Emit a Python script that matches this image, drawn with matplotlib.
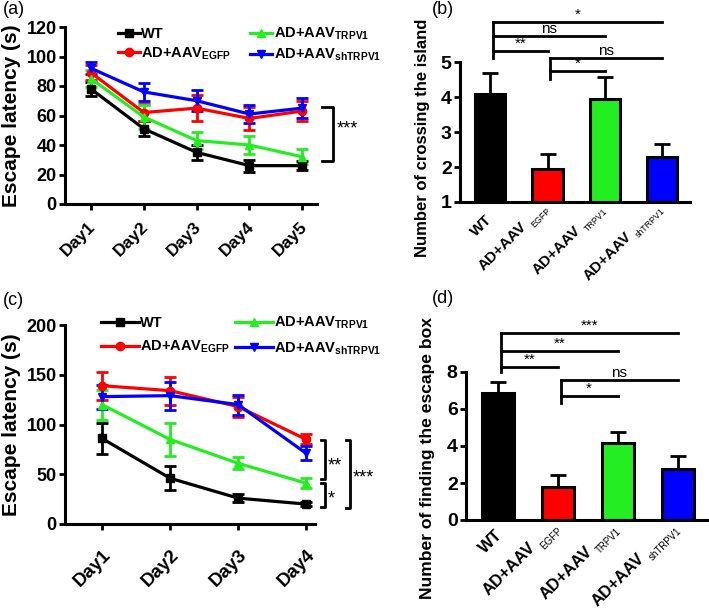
import matplotlib
matplotlib.use('Agg')
import matplotlib.pyplot as plt
import matplotlib.transforms as mtransforms
from matplotlib.textpath import TextPath
from matplotlib.font_manager import FontProperties
import numpy as np

plt.rcParams['font.family'] = ['Liberation Sans', 'DejaVu Sans']
plt.rcParams['font.weight'] = 'bold'
plt.rcParams['mathtext.fontset'] = 'custom'
plt.rcParams['mathtext.rm'] = 'Liberation Sans'
plt.rcParams['mathtext.bf'] = 'Liberation Sans:bold'
plt.rcParams['mathtext.it'] = 'Liberation Sans:italic'

# ---------------- data ----------------
series_names = ['WT', 'EGFP', 'TRPV1', 'shTRPV1']
legend_labels = ['WT', r'AD+AAV$_{\mathbf{EGFP}}$', r'AD+AAV$_{\mathbf{TRPV1}}$', r'AD+AAV$_{\mathbf{shTRPV1}}$']
bar_main_labels = ['WT', 'AD+AAV', 'AD+AAV', 'AD+AAV']
bar_sub_labels = ['', 'EGFP', 'TRPV1', 'shTRPV1']
colors = ['#000000', '#ff0000', '#22ee22', '#0000ff']
markers = ['s', 'o', '^', 'v']

days_a = ['Day1', 'Day2', 'Day3', 'Day4', 'Day5']
wt_a = [78, 51, 35, 26, 26]
wt_a_err = [5, 5, 5, 4, 3]
egfp_a = [89, 62, 65, 58, 63]
egfp_a_err = [5, 6, 9, 8, 7]
trpv1_a = [85, 59, 43, 40, 32]
trpv1_a_err = [6, 8, 6, 6, 5]
sh_a = [92, 76, 70, 61, 65]
sh_a_err = [4, 6, 7, 6, 7]

days_c = ['Day1', 'Day2', 'Day3', 'Day4']
wt_c = [86, 46, 26, 20]
wt_c_err = [16, 12, 4, 2]
egfp_c = [139, 134, 118, 85]
egfp_c_err = [14, 14, 10, 5]
trpv1_c = [120, 85, 61, 41]
trpv1_c_err = [15, 17, 6, 5]
sh_c = [128, 129, 120, 71]
sh_c_err = [12, 14, 10, 7]

cross_b = [4.08, 1.95, 3.95, 2.30]
cross_b_err = [0.62, 0.43, 0.62, 0.35]
find_d = [6.88, 1.77, 4.18, 2.76]
find_d_err = [0.60, 0.66, 0.56, 0.70]

# significance comparisons: (from, to, label)
comps_b = [(0, 1, '**'), (0, 2, 'ns'), (0, 3, '*'), (1, 2, '*'), (1, 3, 'ns')]
comps_d = [(0, 1, '**'), (0, 2, '**'), (0, 3, '***'), (1, 2, '*'), (1, 3, 'ns')]

# ---------------- figure ----------------
W, H = 709, 609
fig = plt.figure(figsize=(W / 100, H / 100), dpi=100)
C45 = np.sqrt(0.5)

def px_axes(l, r, t, b):
    return fig.add_axes([l / W, 1 - b / H, (r - l) / W, (b - t) / H])

def px_off(dx, dy):
    # dx to the right, dy downwards, in pixels
    return mtransforms.ScaledTranslation(dx / 100, -dy / 100, fig.dpi_scale_trans)

def text_len_px(s, size, weight):
    fp = FontProperties(family='Liberation Sans', weight=weight, size=size)
    return TextPath((0, 0), s, size=size, prop=fp).get_extents().width * 100 / 72

def style(ax, tick_fs):
    for s in ['top', 'right']:
        ax.spines[s].set_visible(False)
    for s in ['left', 'bottom']:
        ax.spines[s].set_linewidth(2.2)
    ax.tick_params(width=2, length=4, labelsize=tick_fs, pad=2)

def shift_labels(ax, offsets):
    for lab, (dx, dy) in zip(ax.get_xticklabels(), offsets):
        lab.set_transform(lab.get_transform() + px_off(dx, dy))

def line_panel(ax, days, series, errs, ylim, yticks, ylabel, legend_anchor, handlelen, colsp, labsp,
               ylabel_fs, day_fs, day_pad):
    x = np.arange(1, len(days) + 1)
    handles = []
    for vals, er, c, m, lab in zip(series, errs, colors, markers, legend_labels):
        h = ax.errorbar(x, vals, yerr=er, color=c, marker=m, markersize=6, lw=2.3,
                        elinewidth=2, capsize=4, capthick=2, label=lab, clip_on=False)
        handles.append(h)
    ax.set_ylim(*ylim)
    ax.set_yticks(yticks)
    ax.set_xticks(x)
    ax.set_xticklabels(days, rotation=45, ha='right', rotation_mode='anchor', fontsize=day_fs)
    ax.set_ylabel(ylabel, fontsize=ylabel_fs, fontweight='bold', labelpad=4)
    style(ax, 13)
    ax.tick_params(axis='x', labelsize=day_fs, pad=day_pad)
    ax.legend(handles=[h[0] for h in handles], labels=legend_labels, ncol=2, frameon=False,
              loc='upper left', bbox_to_anchor=legend_anchor, bbox_transform=fig.transFigure,
              fontsize=10.5, handlelength=handlelen, handletextpad=0.1,
              columnspacing=colsp, labelspacing=labsp, borderpad=0, borderaxespad=0)
    return ax

# ---- (a)
ax_a = px_axes(65, 317, 27, 204)
ax_a.set_xlim(0.507, 5.28)
line_panel(ax_a, days_a, [wt_a, egfp_a, trpv1_a, sh_a], [wt_a_err, egfp_a_err, trpv1_a_err, sh_a_err],
           (0, 120), [0, 20, 40, 60, 80, 100, 120], 'Escape latency (s)',
           (118 / W, 1 - 26 / H), 1.5, 1.3, 0.3, 15, 12.5, 7)
shift_labels(ax_a, [(-3, 0)] * 5)
ax_a.plot([5.38, 5.59, 5.59, 5.38], [65.8, 65.8, 29.2, 29.2], color='black', lw=2, clip_on=False)
ax_a.text(5.66, 51, '***', fontsize=13, fontweight='normal', ha='left', va='center', clip_on=False)

# ---- (c)
ax_c = px_axes(65, 315, 325, 524)
ax_c.set_xlim(0.456, 4.13)
line_panel(ax_c, days_c, [wt_c, egfp_c, trpv1_c, sh_c], [wt_c_err, egfp_c_err, trpv1_c_err, sh_c_err],
           (0, 200), [0, 50, 100, 150, 200], 'Escape latency (s)',
           (101 / W, 1 - 315 / H), 2.6, 0.3, 0.6, 15, 13.5, 12)
for xs, ys in [([4.22, 4.28, 4.28, 4.22], [84.4, 84.4, 45.2, 45.2]),
               ([4.22, 4.28, 4.28, 4.22], [41.2, 41.2, 17.1, 17.1]),
               ([4.59, 4.65, 4.65, 4.59], [84.4, 84.4, 16.1, 16.1])]:
    ax_c.plot(xs, ys, color='black', lw=2, clip_on=False)
ax_c.text(4.31, 58, '**', fontsize=13, fontweight='normal', ha='left', va='center', clip_on=False)
ax_c.text(4.31, 25, '*', fontsize=13, fontweight='normal', ha='left', va='center', clip_on=False)
ax_c.text(4.68, 46, '***', fontsize=13, fontweight='normal', ha='left', va='center', clip_on=False)

# ---------------- bar panels ----------------
def bar_panel(ax, vals, errs, ylim, yticks, ylabel, ylabel_fs, label_y, comps, levels, verts,
              main_fs, sub_fs, wt_end, sub_end, gap, drop):
    x = np.arange(len(vals))
    ax.bar(x, vals, width=0.53, color=colors, edgecolor='black', linewidth=2.2, zorder=2)
    ax.errorbar(x, vals, yerr=[np.zeros(len(errs)), errs], fmt='none', ecolor='black',
                elinewidth=2, capsize=6, capthick=2, zorder=1)
    ax.set_xlim(-0.53, 3.49)
    ax.set_ylim(*ylim)
    ax.set_yticks(yticks)
    ax.set_xticks(x)
    style(ax, 14)
    ax.tick_params(axis='x', length=0, labelbottom=False)
    xtrans = ax.get_xaxis_transform()
    for xi, main, sub in zip(x, bar_main_labels, bar_sub_labels):
        if sub:
            ls = text_len_px(sub, sub_fs, 'normal')
            sx, sy = sub_end[0] - C45 * ls, sub_end[1] + C45 * ls
            ax.text(xi, 0, sub, transform=xtrans + px_off(sx, sy),
                    rotation=45, rotation_mode='anchor', ha='left', va='baseline',
                    fontsize=sub_fs, fontweight='normal', clip_on=False)
            mx, my = sx - C45 * gap - C45 * drop, sy + C45 * gap - C45 * drop
        else:
            mx, my = wt_end
        ax.text(xi, 0, main, transform=xtrans + px_off(mx, my),
                rotation=45, rotation_mode='anchor', ha='right', va='baseline',
                fontsize=main_fs, fontweight='bold', clip_on=False)
    ax.set_ylabel(ylabel, fontsize=ylabel_fs, fontweight='bold')
    ax.yaxis.set_label_coords(-0.13, label_y)
    for (i, j, lab), lev in zip(comps, levels):
        x0 = i + 0.05
        ax.plot([x0, j], [lev, lev], color='black', lw=2, clip_on=False)
        ax.text((x0 + j) / 2, lev, lab, fontsize=11, fontweight='normal', ha='center', va='bottom',
                clip_on=False)
    for xi, (y0, y1) in verts:
        ax.plot([xi + 0.05, xi + 0.05], [y0, y1], color='black', lw=2, clip_on=False)

ax_b = px_axes(460, 690, 62, 202)
bar_panel(ax_b, cross_b, cross_b_err, (1, 5), [1, 2, 3, 4, 5], 'Number of crossing the island', 12,
          0.46, comps_b, [5.31, 5.74, 6.14, 4.74, 5.11], [(0, (6.14, 5.11)), (1, (5.11, 4.51))],
          11, 6.3, (2.7, 18), (2.5, 10), 4, 5)

ax_d = px_axes(466, 707, 372, 520)
bar_panel(ax_d, find_d, find_d_err, (0, 8), [0, 2, 4, 6, 8], 'Number of finding the escape box', 12.6,
          0.42, comps_d, [8.27, 9.13, 10.1, 6.70, 7.57], [(0, (10.1, 8.0)), (1, (7.57, 6.32))],
          12, 7, (5, 16), (4, 12), 4, 6)

# panel labels
for lab, xp, yp in [('(a)', 3, 10), ('(b)', 432, 9), ('(c)', 3, 301), ('(d)', 432, 298)]:
    fig.text(xp / W, 1 - yp / H, lab, fontsize=13, fontweight='normal', ha='left', va='center')

fig.savefig('out.png', dpi=100)
